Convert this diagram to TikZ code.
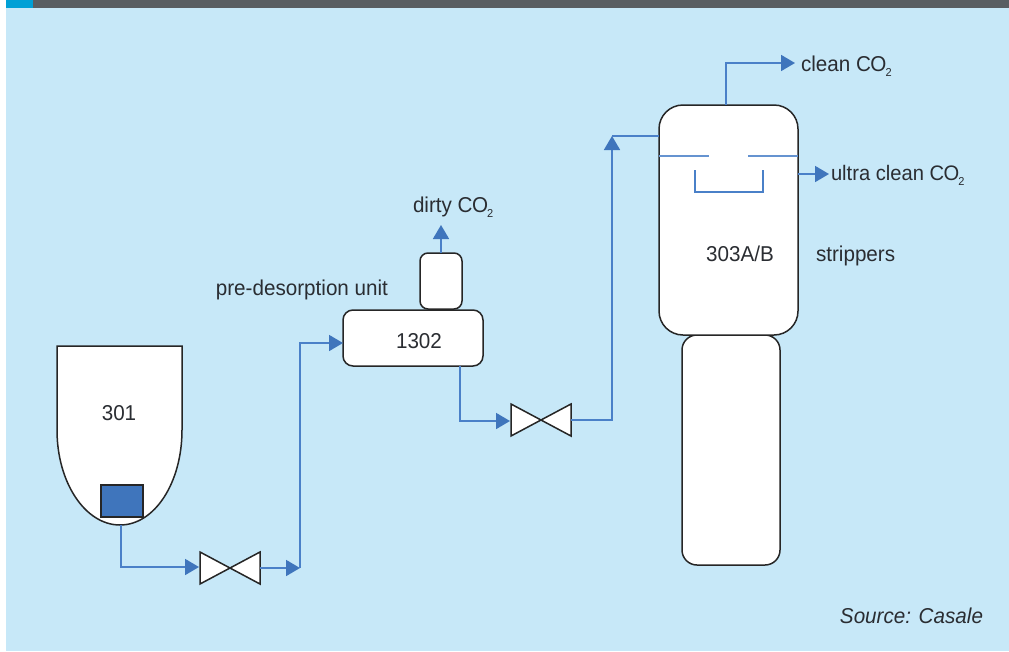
\documentclass[tikz,border=0pt]{standalone}
\usepackage{fontspec}
\setmainfont[FakeStretch=0.96]{Liberation Sans}
\usetikzlibrary{arrows.meta}
\definecolor{bgblue}{HTML}{C7E8F8}
\definecolor{barblue}{HTML}{00A0D6}
\definecolor{bargray}{HTML}{595E62}
\definecolor{flow}{HTML}{4A80C8}
\definecolor{solid}{HTML}{3F75BC}
\definecolor{ink}{HTML}{2A2D32}
\newcommand{\cotwo}{C\kern-0.5pt O\kern-1pt\raisebox{-5pt}{\fontsize{11.5}{12}\selectfont 2}}
\tikzset{
  x=1pt,y=-1pt,
  vesselbox/.style={draw=black!85,fill=white,line width=1.5pt,inner sep=0pt,outer sep=0pt,anchor=north west},
  valveshape/.style={draw=black!85,fill=white,line width=1.5pt,line join=miter},
  pipe/.style={draw=flow,line width=1.8pt,line join=miter},
  flowarrow/.style={pipe,-{Triangle[length=14pt,width=16pt,color=solid]}},
  label/.style={text=ink,inner sep=0pt,outer sep=0pt,font=\fontsize{21.5}{24}\selectfont},
}
\begin{document}
\begin{tikzpicture}
\useasboundingbox (0,0) rectangle (1009,651);
\fill[white] (0,0) rectangle (1009,651);
\fill[bgblue] (6,8) rectangle (1009,651);
\fill[bargray] (6,0) rectangle (1009,8);
\fill[barblue] (6,0) rectangle (33,8);

\coordinate (c1) at (121,567);
\coordinate (c2) at (300,568);
\coordinate (c3) at (300,343);
\coordinate (c4) at (460,421);
\coordinate (c5) at (612,420);
\coordinate (c6) at (612,136);
\coordinate (c7) at (726,63);
\coordinate (c8) at (795,63);
\coordinate (c9) at (829,174);
\coordinate (c10) at (441,225);

% vessel 301
\draw[vesselbox] (57,346) -- (182,346) -- (182,430)
  .. controls (182,482.5) and (154.8,525) .. (120,525)
  .. controls (85.2,525) and (57,482.5) .. (57,430) -- cycle;
\coordinate (v301bottom) at (121,525);
\node[label,anchor=base] (v301) at (119,420) {301};
\node[draw=black!85,fill=solid,line width=1.5pt,inner sep=0pt,outer sep=0pt,minimum width=42pt,minimum height=32pt,anchor=north west] (pump) at (101,485) {};

% valves
\coordinate (va) at (230,568);
\coordinate (val) at (199,567);
\coordinate (var) at (260,568);
\draw[valveshape] (200,552) -- (260,584) -- (260,552) -- (200,584) -- cycle;
\coordinate (vb) at (541,420);
\coordinate (vbl) at (510,421);
\coordinate (vbr) at (571,420);
\draw[valveshape] (511,404) -- (571,436) -- (571,404) -- (511,436) -- cycle;

% 1302 and its top drum
\node[vesselbox,rounded corners=10pt,minimum width=140pt,minimum height=56pt] (unit) at (343,310) {};
\node[vesselbox,rounded corners=8pt,minimum width=42pt,minimum height=56pt] (drum) at (420,253) {};
\node[label,anchor=base] at (419,348) {1302};

% strippers
\node[vesselbox,rounded corners=15pt,minimum width=98pt,minimum height=230pt] (lower) at (682,335) {};
\node[vesselbox,rounded corners=24pt,minimum width=139pt,minimum height=230pt] (tower) at (659,105) {};
\node[label,anchor=base] at (740,261) {303A/B};

% internals
\draw[pipe,draw=flow!85] (tower.west |- 0,156) -- (709,156);
\draw[pipe,draw=flow!85] (748,156) -- (tower.east |- 0,156);
\draw[pipe] (695,170) -- (695,192) -- (763,192) -- (763,170);

% connectors
\draw[flowarrow] (v301bottom) -- (c1) -- (val);
\draw[flowarrow] (var) -- (c2);
\draw[flowarrow] (c2) -- (c3) -- (unit.west |- c3);
\draw[flowarrow] (460,366) -- (c4) -- (vbl);
\draw[flowarrow] (vbr) -- (c5) -- (c6);
\draw[pipe] (c6) -- (tower.west |- c6);
\draw[flowarrow] (tower.north -| c7) -- (c7) -- (c8);
\draw[flowarrow] (tower.east |- c9) -- (c9);
\draw[flowarrow] (drum.north -| c10) -- (c10);

% labels
\node[label,anchor=base west] at (801,71) {clean \cotwo};
\node[label,anchor=base west,font=\fontsize{21}{24}\selectfont] at (831,180) {ultra clean \cotwo};
\node[label,anchor=base west] at (816,261) {strippers};
\node[label,anchor=base east] at (388,295) {pre-desorption unit};
\node[label,anchor=base west] at (413,212) {dirty \cotwo};
\node[label,anchor=base east,font=\fontsize{21.5}{24}\selectfont\itshape] at (983,623) {Source: Casale};
\end{tikzpicture}
\end{document}
